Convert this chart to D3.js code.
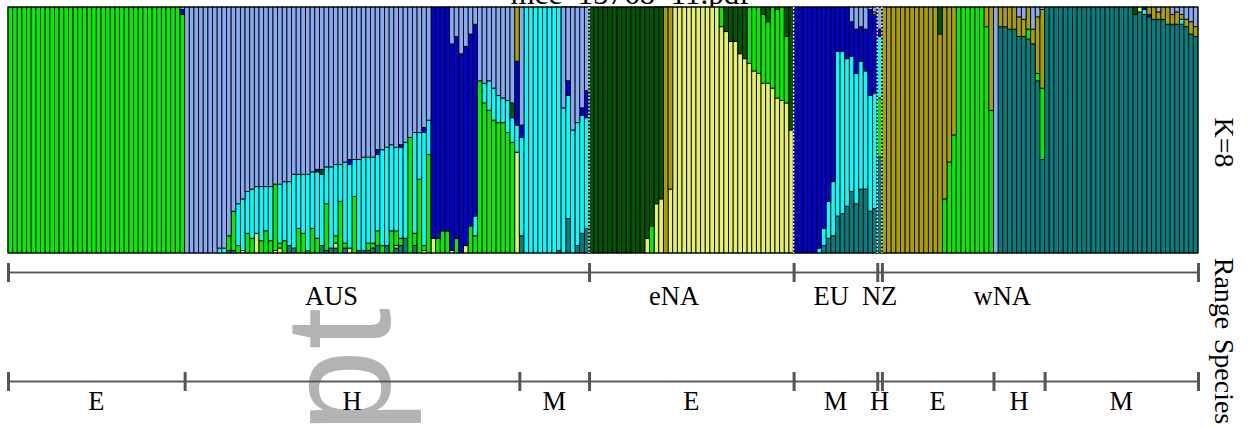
<!DOCTYPE html>
<html><head><meta charset="utf-8">
<script src="https://cdn.jsdelivr.net/npm/d3@7"></script>
<style>body{margin:0;background:#fff;} svg{display:block;}</style>
</head><body>
<svg id="chart" width="1251" height="427"></svg>
<script>
// ---- clusters (stack order bottom -> top) ----
const clusters = ["teal","yellow","green","cyan","blue","olive","dkgreen","ltblue"];
const clusterColors = ["#008080","#e6f068","#00ee00","#00ffff","#0000d0","#aca000","#005500","#88aaf0"];

// ---- membership coefficients (%) per individual, 256 individuals ----
const teal = [
0,0,0,0,0,0,0,0,0,0, 0,0,0,0,0,0,0,0,0,0, 0,0,0,0,0,0,0,0,0,0, 0,0,0,0,0,0,0,0,0,0,
0,0,0,0,0,0,0,1,1,0, 0,0,0,0,0,0,0,0,0,0, 3,2,0,0,1,0,0,3,1,2, 2,0,2,0,0,1,1,1,2,3,
0,3,0,2,3,6,0,3,0,0, 0,0,0,0,0,0,0,0,0,0, 0,0,0,0,0,0,0,0,0,0, 7,0,0,0,0,0,0,0,1,0,
14,0,3,8,10,0,0,0,0,0, 0,0,0,0,0,0,0,0,0,0, 0,0,0,0,0,0,0,0,0,0, 0,0,0,0,0,0,0,0,0,0,
0,0,0,0,0,0,0,0,0,0, 0,0,0,0,0,3,6,7,15,16, 19,25,20,26,26,17,18,39,0,0, 0,0,0,0,0,0,0,0,0,0,
0,0,0,0,0,0,0,0,0,0, 0,0,0,92,92,91,91,88,88,87, 85,70,38,100,100,100,100,100,100,100, 100,100,100,100,100,100,100,100,100,100,
100,100,97,98,97,96,95,95,95,93, 93,93,93,92,89,88];
const yellow = [
0,0,0,0,0,0,0,0,0,0, 0,0,0,0,0,0,0,0,0,0, 0,0,0,0,0,0,0,0,0,0, 0,0,0,0,0,0,0,0,0,0,
0,0,0,0,0,0,0,0,0,0, 1,0,0,8,0,0,0,1,2,0, 0,0,0,0,0,0,0,0,0,0, 2,0,0,2,0,0,0,0,0,0,
0,0,0,1,0,0,0,0,0,1, 0,6,0,0,0,1,0,0,3,0, 0,0,0,0,0,0,0,0,0,41, 0,0,0,0,0,0,0,0,0,0,
0,0,0,0,0,0,0,0,0,0, 0,0,0,0,0,0,0,6,0,20, 22,0,26,100,100,100,100,100,100,100, 100,100,100,92,90,86,86,81,79,77,
74,73,69,69,67,63,62,61,50,0, 0,0,0,0,0,0,0,0,0,0, 0,0,0,0,0,0,0,0,0,0, 0,0,0,0,0,0,0,0,0,0,
0,0,0,0,0,0,0,0,0,0, 0,0,0,0,0,0,0,0,0,0, 0,0,0,0,0,0,0,0,0,0, 0,0,0,0,0,0,0,0,0,0,
0,0,0,2,0,0,0,0,0,0, 0,0,0,0,0,0];
const green = [
100,100,100,100,100,100,100,100,100,100, 100,100,100,100,100,100,100,100,100,100, 100,100,100,100,100,100,100,100,100,100, 100,100,100,100,100,100,100,97,0,0,
0,0,0,0,0,0,0,6,16,3, 0,8,6,0,5,9,5,27,2,5, 0,0,10,8,0,10,6,0,19,0, 3,21,2,0,23,0,0,3,2,6,
3,0,9,6,3,0,47,5,30,2, 40,0,6,9,9,0,6,0,0,11, 7,70,61,58,54,53,53,49,45,0, 0,0,0,0,0,0,0,0,0,0,
0,0,0,0,0,0,0,0,0,0, 0,0,0,0,0,0,0,0,11,0, 0,0,0,0,0,0,0,0,0,0, 0,0,0,8,0,0,0,0,0,23,
26,27,28,25,33,36,38,27,0,0, 0,0,0,0,0,0,0,0,0,0, 0,0,0,0,0,0,0,24,0,0, 0,0,0,0,0,0,0,0,0,0,
0,22,37,48,100,100,100,100,100,100, 92,58,0,0,0,0,0,0,0,4, 0,3,29,0,0,0,0,0,0,0, 0,0,0,0,0,0,0,0,0,0,
0,0,0,0,0,0,0,0,0,0, 0,0,0,0,0,0];
const cyan = [
0,0,0,0,0,0,0,0,0,0, 0,0,0,0,0,0,0,0,0,0, 0,0,0,0,0,0,0,0,0,0, 0,0,0,0,0,0,0,0,0,0,
0,0,0,0,0,2,2,0,0,17, 21,17,20,19,22,18,22,0,24,24, 26,30,22,24,31,23,27,29,15,33, 29,15,33,34,15,37,38,35,35,31,
39,40,35,34,37,39,0,41,19,46, 14,0,0,0,0,0,0,0,0,0, 8,0,8,12,13,11,10,13,10,11, 40,100,100,100,100,100,100,100,99,59,
50,50,50,48,45,0,0,0,0,0, 0,0,0,0,0,0,0,0,0,0, 0,0,0,0,0,0,0,0,0,0, 0,0,0,0,0,0,0,0,0,0,
0,0,0,0,0,0,0,0,0,0, 0,0,0,0,2,7,15,22,67,66, 60,55,53,52,48,47,47,25,0,0, 0,0,0,0,0,0,0,0,0,0,
0,0,0,0,0,0,0,0,0,0, 0,0,0,0,0,0,0,0,0,0, 0,0,0,0,0,0,0,0,0,0, 0,0,0,0,0,0,0,0,0,0,
0,0,0,0,2,0,0,0,0,0, 0,0,2,0,0,0];
const blue = [
0,0,0,0,0,0,0,0,0,0, 0,0,0,0,0,0,0,0,0,0, 0,0,0,0,0,0,0,0,0,0, 0,0,0,0,0,0,0,2,0,0,
0,0,0,0,0,0,0,0,0,0, 0,0,0,0,0,0,0,0,0,0, 0,0,0,0,0,0,1,0,0,0, 0,0,0,2,0,0,0,0,0,2,
0,0,0,0,1,0,0,0,0,2, 0,94,94,91,91,84,82,81,81,78, 78,0,0,0,0,0,0,0,0,26, 5,0,0,0,0,0,0,0,0,0,
6,0,0,3,11,0,0,0,0,0, 0,0,0,0,0,0,0,0,0,0, 0,0,0,0,0,0,0,0,0,0, 0,0,0,0,0,0,0,0,0,0,
0,0,0,0,0,0,0,0,0,100, 100,100,100,100,98,90,79,71,18,18, 21,14,18,14,17,35,32,3,0,0, 0,0,0,0,0,0,0,0,0,0,
0,0,0,0,0,0,0,0,0,0, 0,0,0,0,0,0,0,0,0,0, 0,0,0,0,0,0,0,0,0,0, 0,0,0,0,0,0,0,0,0,0,
0,0,0,0,1,1,0,0,0,0, 0,0,0,0,0,0];
const olive = [
0,0,0,0,0,0,0,0,0,0, 0,0,0,0,0,0,0,0,0,0, 0,0,0,0,0,0,0,0,0,0, 0,0,0,0,0,0,0,0,0,0,
0,0,0,0,0,0,0,0,0,0, 0,0,0,0,0,0,0,0,0,0, 0,0,0,0,0,0,0,0,0,0, 0,0,0,0,0,0,0,0,0,0,
0,0,0,0,0,0,0,0,0,0, 0,0,0,0,0,0,0,0,0,0, 0,0,0,0,0,0,0,0,0,22, 0,0,0,0,0,0,0,0,0,0,
0,0,0,0,0,0,0,0,0,0, 0,0,0,0,0,0,0,0,0,0, 0,100,74,0,0,0,0,0,0,0, 0,0,0,0,0,0,0,0,0,0,
0,0,0,0,0,0,0,0,0,0, 0,0,0,0,0,0,0,0,0,0, 0,0,0,0,0,0,1,0,100,100, 100,100,100,100,100,100,100,100,100,100,
89,78,63,52,0,0,0,0,0,0, 8,42,0,8,8,9,9,8,7,9, 6,23,32,0,0,0,0,0,0,0, 0,0,0,0,0,0,0,0,0,0,
0,0,0,0,0,3,5,3,5,7, 4,5,2,3,5,4];
const dkgreen = [
0,0,0,0,0,0,0,0,0,0, 0,0,0,0,0,0,0,0,0,0, 0,0,0,0,0,0,0,0,0,0, 0,0,0,0,0,0,0,0,0,0,
0,0,0,0,0,0,0,0,0,0, 0,0,0,0,0,0,0,0,0,0, 0,0,0,0,0,0,0,2,0,0, 0,0,0,0,0,0,0,0,0,0,
0,0,0,0,0,0,0,0,0,0, 0,0,0,0,0,0,0,0,0,0, 0,0,0,0,0,0,0,0,6,0, 0,0,0,0,0,0,0,0,0,0,
0,0,0,0,0,100,100,100,100,100, 100,100,100,100,100,100,100,94,89,80, 78,0,0,0,0,0,0,0,0,0, 0,0,0,0,10,14,14,19,21,0,
0,0,3,6,0,1,0,12,50,0, 0,0,0,0,0,0,0,0,0,0, 0,0,0,0,0,0,0,0,0,0, 0,0,0,0,0,0,0,0,0,0,
11,0,0,0,0,0,0,0,0,0, 0,0,0,0,0,0,0,0,0,0, 0,0,0,0,0,0,0,0,0,0, 0,0,0,0,0,0,0,0,0,0,
0,0,3,0,0,0,0,0,0,0, 0,0,0,0,0,0];
const ltblue = [
0,0,0,0,0,0,0,0,0,0, 0,0,0,0,0,0,0,0,0,0, 0,0,0,0,0,0,0,0,0,0, 0,0,0,0,0,0,0,1,100,100,
100,100,100,100,100,98,98,93,83,80, 78,75,74,73,73,73,73,72,72,71, 71,68,68,68,68,67,66,66,65,65, 64,64,63,62,62,62,61,61,61,58,
58,57,56,57,56,55,53,51,51,49, 46,0,0,0,0,15,12,19,16,11, 7,30,31,30,33,36,37,38,39,0, 48,0,0,0,0,0,0,0,0,41,
30,50,47,41,34,0,0,0,0,0, 0,0,0,0,0,0,0,0,0,0, 0,0,0,0,0,0,0,0,0,0, 0,0,0,0,0,0,0,0,0,0,
0,0,0,0,0,0,0,0,0,0, 0,0,0,0,0,0,0,0,0,0, 0,6,9,8,9,1,2,9,0,0, 0,0,0,0,0,0,0,0,0,0,
0,0,0,0,0,0,0,0,0,0, 0,0,100,0,0,0,0,4,5,0, 9,4,1,0,0,0,0,0,0,0, 0,0,0,0,0,0,0,0,0,0,
0,0,0,0,0,0,0,2,0,0, 3,2,3,5,6,8];

// ---- groupings ----
const rangeLabels = ["AUS","eNA","EU","NZ","wNA"];
const rangeCounts = [125,44,18,1,68];
const rangeLabelAt = [69.6,143.3,177.1,187.5,213.9];   // label anchor, in individual units
const speciesLabels = ["E","H","M","E","M","H","E","H","M"];
const speciesCounts = [38,72,15,44,18,1,24,11,33];
const titleText = "mcc_15768_11.pdf";
const kText = "K=8";
const sideLabels = ["Range","Species"];
const watermarkText = "pt";

// ---- build ----
const series = {teal, yellow, green, cyan, blue, olive, dkgreen, ltblue};
const N = d3.sum(speciesCounts);
clusters.forEach(c => { if (series[c].length !== N) throw new Error(c + " length " + series[c].length); });
const rows = d3.range(N).map(i => Object.fromEntries(clusters.map(c => [c, series[c][i]])));

const svg = d3.select("#chart");
const serif = "'Liberation Serif','Times New Roman',serif";
svg.append("rect").attr("width",1251).attr("height",427).attr("fill","#fff");

const xs = d3.scaleLinear().domain([0, N]).range([8, 1198]);
const ys = d3.scaleLinear().domain([0, 1]).range([253, 7]);
const color = d3.scaleOrdinal().domain(clusters).range(clusterColors);

// title (partially hidden above the plot)
svg.append("text").attr("x",630).attr("y",4).attr("text-anchor","middle")
  .attr("font-family",serif).attr("font-size",31).attr("fill","#000").text(titleText);

// watermark
svg.append("text").attr("transform","translate(390,433) rotate(-90)")
  .attr("font-family","'Liberation Sans',Arial,sans-serif").attr("font-size",150)
  .attr("fill","#b3b3b3").text(watermarkText);

// bars
const stacked = d3.stack().keys(clusters).offset(d3.stackOffsetExpand)(rows);
const plot = svg.append("g");
stacked.forEach(layer => {
  plot.append("g").attr("fill", color(layer.key))
    .selectAll("rect")
    .data(layer.map((d,i) => ({d, i})).filter(o => o.d[1] - o.d[0] > 1e-6))
    .join("rect")
    .attr("x", o => xs(o.i))
    .attr("width", o => xs(o.i + 1) - xs(o.i))
    .attr("y", o => ys(o.d[1]))
    .attr("height", o => ys(o.d[0]) - ys(o.d[1]))
    .attr("stroke","#000").attr("stroke-width",0.9);
});
plot.append("rect").attr("x",xs(0)).attr("y",ys(1)).attr("width",xs(N)-xs(0)).attr("height",ys(0)-ys(1))
  .attr("fill","none").attr("stroke","#000").attr("stroke-width",1);

// population separators
const rangeBounds = [0, ...d3.cumsum(rangeCounts)];
const innerRange = rangeBounds.slice(1, -1);
plot.selectAll(".sepb").data(innerRange).join("line")
  .attr("x1",d=>xs(d)).attr("x2",d=>xs(d)).attr("y1",ys(1)).attr("y2",ys(0))
  .attr("stroke","#000").attr("stroke-width",1.6);
plot.selectAll(".sepw").data(innerRange).join("line")
  .attr("x1",d=>xs(d)).attr("x2",d=>xs(d)).attr("y1",ys(1)).attr("y2",ys(0))
  .attr("stroke","#fff").attr("stroke-width",1.4).attr("stroke-dasharray","2,1.6");

// bracket axes
function bracketAxis(y, bounds) {
  const g = svg.append("g").attr("transform",`translate(0,${y})`);
  g.append("g").call(d3.axisBottom(xs).tickValues(bounds).tickSize(10).tickSizeOuter(0).tickFormat(""));
  g.append("g").call(d3.axisTop(xs).tickValues(bounds).tickSize(9).tickSizeOuter(0).tickFormat(""));
  g.selectAll(".domain").attr("stroke","#555").attr("stroke-width",1.4);
  g.selectAll(".tick line").attr("stroke","#555").attr("stroke-width",3);
  return g;
}
bracketAxis(272, rangeBounds);
const speciesBounds = [0, ...d3.cumsum(speciesCounts)];
bracketAxis(381, speciesBounds);

// labels
svg.append("g").selectAll("text").data(rangeLabels).join("text")
  .attr("x",(d,i)=>xs(rangeLabelAt[i])).attr("y",304.5).attr("text-anchor","middle")
  .attr("font-family",serif).attr("font-size",26.5).attr("fill","#000").text(d=>d);
svg.append("g").selectAll("text").data(speciesLabels).join("text")
  .attr("x",(d,i)=>xs((speciesBounds[i]+speciesBounds[i+1])/2)).attr("y",410).attr("text-anchor","middle")
  .attr("font-family",serif).attr("font-size",26.5).attr("fill","#000").text(d=>d);

// right-hand rotated labels
const side = [{t:kText, y:142.5}, {t:sideLabels[0], y:293.5}, {t:sideLabels[1], y:381.5}];
svg.append("g").selectAll("text").data(side).join("text")
  .attr("transform",d=>`translate(1215,${d.y}) rotate(90)`).attr("text-anchor","middle")
  .attr("font-family",serif).attr("font-size",28).attr("fill","#000").text(d=>d.t);
</script>
</body></html>
